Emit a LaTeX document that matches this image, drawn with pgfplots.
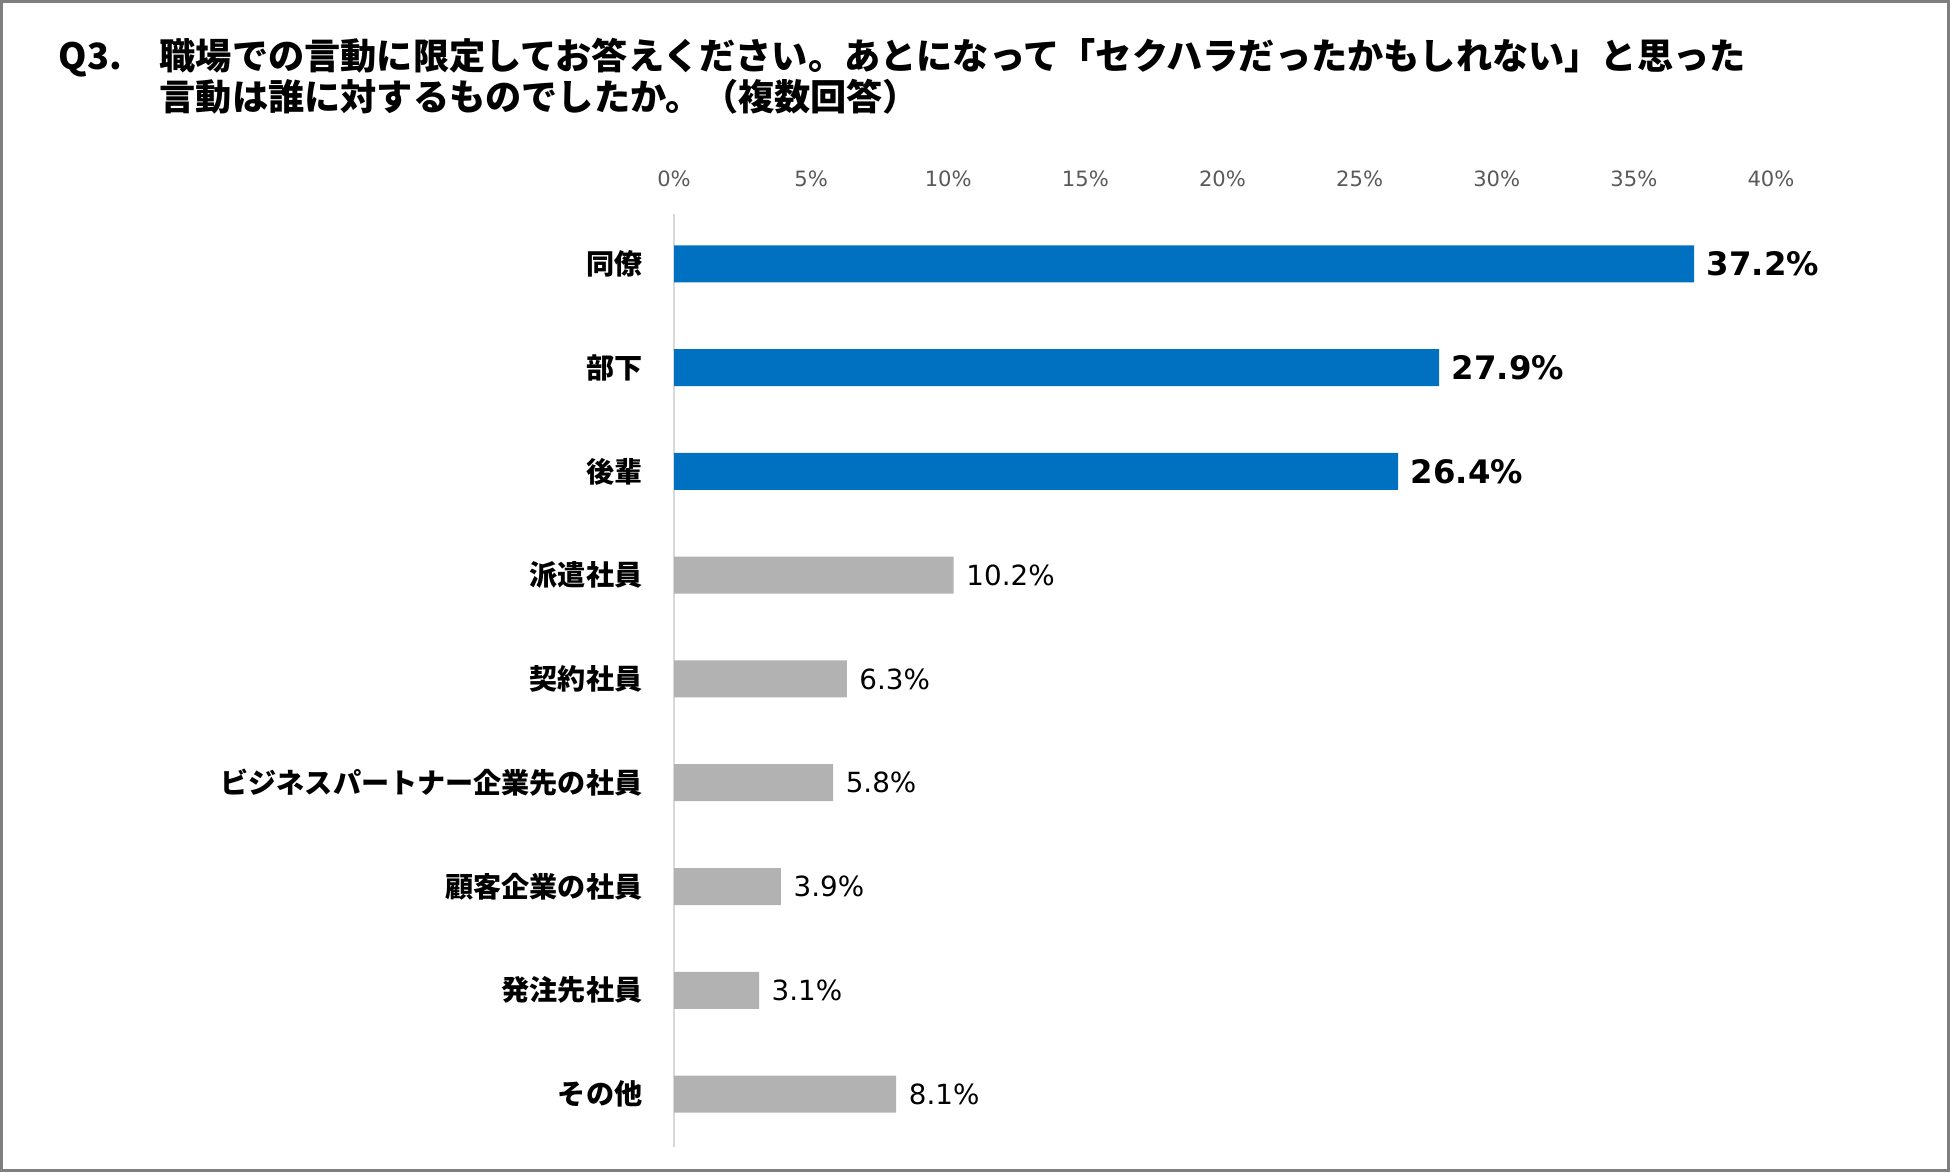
\documentclass[border=0pt]{standalone}
\usepackage{fontspec}
\setmainfont{Noto Sans CJK JP}
\newfontfamily\numfont{DejaVu Sans}
\usepackage{pgfplots}
\pgfplotsset{compat=1.18}
\definecolor{barblue}{HTML}{0070C0}
\definecolor{bargray}{HTML}{B2B2B2}
\definecolor{ticktxt}{HTML}{595959}
\definecolor{frame}{HTML}{7F7F7F}
\begin{document}
\begin{tikzpicture}[x=1mm,y=1mm]
\useasboundingbox (0,0) rectangle (195,117.2);
\draw[frame, line width=0.25mm] (0.15,0.15) rectangle (194.85,117.05);
% title
\node[anchor=west, inner sep=0pt, font=\bfseries\fontsize{10.3}{12}\selectfont] (t1) at (15.9,111.6)
  {職場での言動に限定してお答えください。あとになって「セクハラだったかもしれない」と思った};
\node[anchor=base west, inner sep=0pt, font=\bfseries\fontsize{10.3}{12}\selectfont] at (5.8,0 |- t1.base) {Q3.};
\node[anchor=west, inner sep=0pt, font=\bfseries\fontsize{10.3}{12}\selectfont] at (15.9,107.5)
  {言動は誰に対するものでしたか。（複数回答）};

\begin{axis}[
    at={(67.4mm,2.5mm)}, anchor=south west,
    scale only axis, width=109.7mm, height=93.3mm,
    xmin=0, xmax=40, ymin=-0.48, ymax=8.51,
    y dir=reverse,
    axis x line*=top, axis y line*=left,
    x axis line style={draw=none},
    y axis line style={draw=black!15, line width=0.3pt},
    major tick length=0pt,
    xtick={0,5,...,40},
    xticklabels={0\%,5\%,10\%,15\%,20\%,25\%,30\%,35\%,40\%},
    xticklabel style={font=\numfont\fontsize{6}{7}\selectfont, text=ticktxt, inner sep=0pt, yshift=2.65mm},
    ytick={0,...,8},
    yticklabels={同僚,部下,後輩,派遣社員,契約社員,ビジネスパートナー企業先の社員,顧客企業の社員,発注先社員,その他},
    yticklabel style={font=\bfseries\fontsize{8}{9}\selectfont, inner sep=0pt, xshift=-3.1mm},
    /pgf/number format/assume math mode=true,
    nodes near coords={\pgfmathprintnumber[fixed, fixed zerofill, precision=1]{\pgfplotspointmeta}\%},
    nodes near coords style={anchor=west, inner sep=0pt, xshift=1.2mm, text=black},
    clip=false,
]
\addplot[xbar, bar shift=0pt, bar width=3.7mm, fill=barblue, draw=none, point meta=x,
    every node near coord/.append style={font=\numfont\bfseries\fontsize{9.2}{11}\selectfont}]
    coordinates {(37.2,0) (27.9,1) (26.4,2)};
\addplot[xbar, bar shift=0pt, bar width=3.7mm, fill=bargray, draw=none, point meta=x,
    every node near coord/.append style={font=\numfont\fontsize{7.9}{9}\selectfont}]
    coordinates {(10.2,3) (6.3,4) (5.8,5) (3.9,6) (3.1,7) (8.1,8)};
\end{axis}
\end{tikzpicture}
\end{document}
